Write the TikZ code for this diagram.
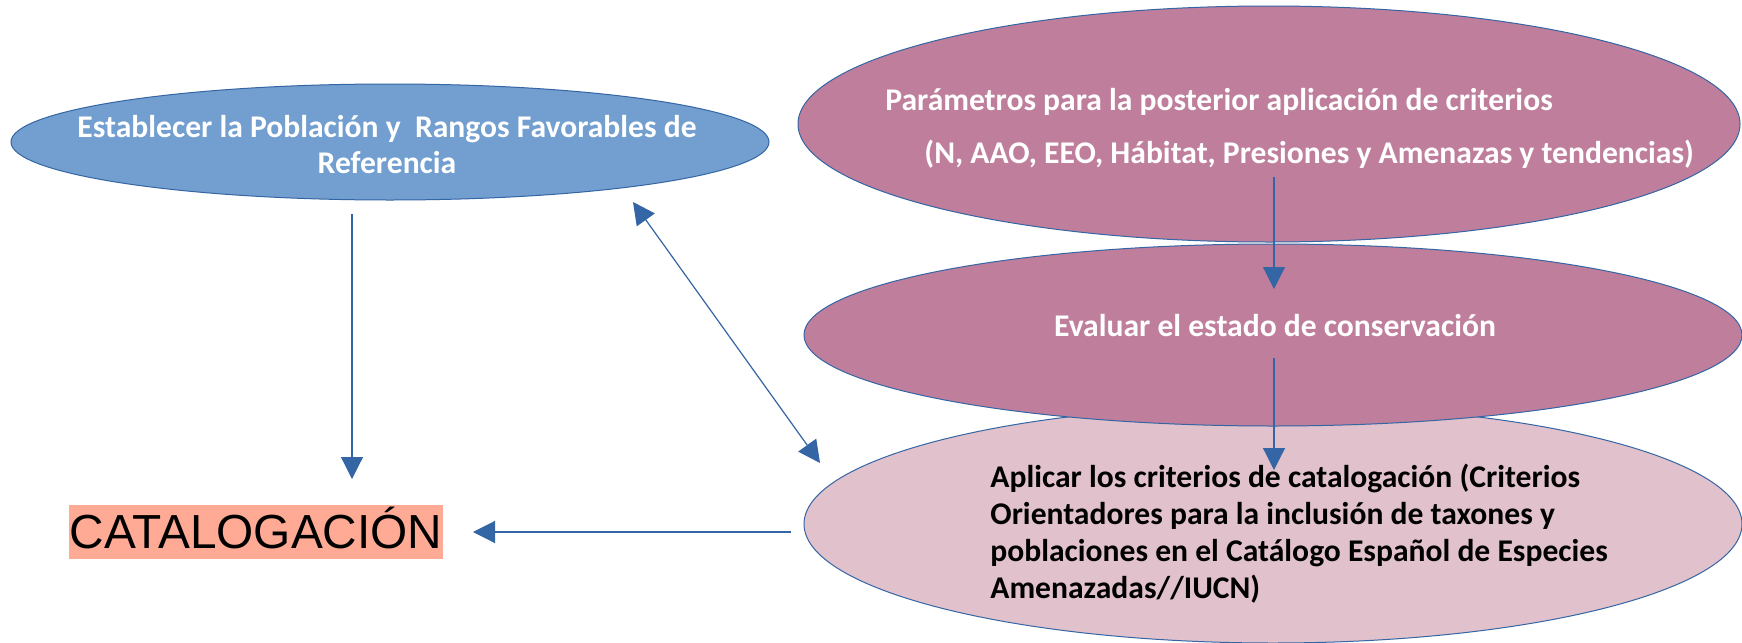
\documentclass[tikz,border=0pt]{standalone}
\usepackage{fontspec}
\setmainfont{Carlito}
\newfontfamily\arialf{Liberation Sans}
\usetikzlibrary{shapes.geometric,arrows.meta}
\definecolor{bluefill}{HTML}{729FCF}
\definecolor{edgeblue}{HTML}{3465A4}
\definecolor{pinkfill}{HTML}{BF7F9C}
\definecolor{lightpink}{HTML}{E0C1CC}
\definecolor{salmon}{HTML}{FFAA95}
\tikzset{
  oval/.style={ellipse, draw=edgeblue, line width=0.5pt, inner sep=0pt},
  wtxt/.style={text=white, font=\bfseries\fontsize{15.8}{18}\selectfont, inner sep=0pt},
  btxt/.style={text=black, font=\bfseries\fontsize{15.8}{18}\selectfont, inner sep=0pt, anchor=base west},
  conn/.style={draw=edgeblue, line width=0.6pt, -{Triangle[length=11pt,width=11pt]}},
  dconn/.style={draw=edgeblue, line width=0.6pt, {Triangle[length=11pt,width=11pt]}-{Triangle[length=11pt,width=11pt]}}
}
\begin{document}
\begin{tikzpicture}[x=0.5pt,y=-0.5pt]
\useasboundingbox[fill=white] (0,0) rectangle (1742,643);
% ellipses
\node[oval, fill=bluefill, minimum width=379pt, minimum height=58pt] (pob) at (390,142) {};
\node[oval, fill=pinkfill, minimum width=471pt, minimum height=118pt] (par) at (1269,124) {};
\node[oval, fill=lightpink, minimum width=469pt, minimum height=119pt] (apl) at (1273,524) {};
\node[oval, fill=pinkfill, minimum width=469pt, minimum height=91pt] (eva) at (1273,335) {};
\node[fill=salmon, minimum width=187pt, minimum height=27pt, inner sep=0pt] (cat) at (256,532) {};
% texts
\node[wtxt, anchor=base] (pob1) at (387,137) {Establecer la Población y\ \ Rangos Favorables de};
\node[wtxt, anchor=base] (pob2) at (387,173) {Referencia};
\node[wtxt, anchor=base west] (par1) at (885,110) {Parámetros para la posterior aplicación de criterios};
\node[wtxt, anchor=base west] (par2) at (924,163) {(N, AAO, EEO, Hábitat, Presiones y Amenazas y tendencias)};
\node[wtxt, anchor=base] (eva1) at (1275,336) {Evaluar el estado de conservación};
\node[btxt] (apl1) at (990,487) {Aplicar los criterios de catalogación (Criterios};
\node[btxt] (apl2) at (990,524) {Orientadores para la inclusión de taxones y};
\node[btxt] (apl3) at (990,561) {poblaciones en el Catálogo Español de Especies};
\node[btxt] (apl4) at (990,598) {Amenazadas//IUCN)};
\node[anchor=base, inner sep=0pt, font=\arialf\fontsize{23.9}{28}\selectfont] (cat1) at (256,548) {CATALOGACIÓN};
% connector ends
\coordinate (a1s) at (352,214);
\coordinate (a1e) at (352,479);
\coordinate (a2s) at (633,202);
\coordinate (a2e) at (820,463);
\coordinate (a3s) at (791,532);
\coordinate (a3e) at (473,532);
\coordinate (a4s) at (1274,177);
\coordinate (a4e) at (1274,289);
\coordinate (a5s) at (1274,358);
\coordinate (a5e) at (1274,470);
\draw[conn] (a1s) -- (a1e);
\draw[dconn] (a2s) -- (a2e);
\draw[conn] (a3s) -- (a3e);
\draw[conn] (a4s) -- (a4e);
\draw[conn] (a5s) -- (a5e);
\end{tikzpicture}
\end{document}
